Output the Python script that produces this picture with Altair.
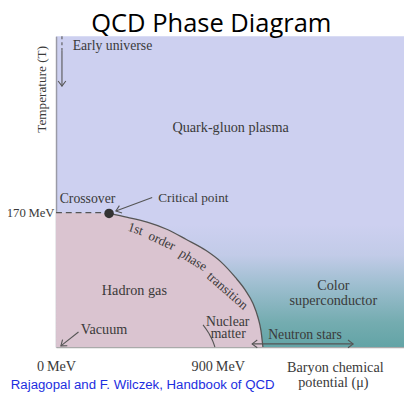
import altair as alt
import pandas as pd

# ---- data (mu = baryon chemical potential in MeV, T = temperature in MeV) ----
x_domain = [0, 1936]
y_domain = [0, 393]

# hadron-gas region boundary (crossover + 1st order line)
boundary_mu = [0, 295, 398, 507, 616, 725, 835, 916, 998, 1053, 1096, 1124, 1140, 1151]
boundary_T = [170, 169, 164, 158, 149, 136, 122, 108, 88, 72, 55, 37, 21, 0]

# crossover (dashed) line and critical point
crossover_mu = [0, 295]
crossover_T = [170, 170]
critical_mu = [295]
critical_T = [169]

# nuclear matter arc
nuclear_mu = [818, 851, 873, 884]
nuclear_T = [28, 17, 7, 0]

# colour-superconductor shading band
cs_mu = [0, 1936]
cs_T = [0, 155]

# arrows: shafts
arrow_id = ["early_d", "early_d", "early", "early", "vac", "vac", "crit", "crit", "ns", "ns"]
arrow_mu = [33, 33, 33, 33, 125, 27, 535, 333, 1091, 1653]
arrow_T = [393, 375, 375, 330, 19, 1.5, 189, 172, 4, 4]
arrow_dash = [1, 1, 0, 0, 0, 0, 0, 0, 0, 0]
arrow_order = [0, 1, 0, 1, 0, 1, 0, 1, 0, 1]

# arrow heads
head_mu = [33, 27, 333, 1091, 1653]
head_T = [330, 1.5, 172, 4, 4]
head_angle = [90, 142, 160, 180, 0]

# labels
label_text = ["Early universe", "Quark-gluon plasma", "Crossover", "Critical point",
              "1st", "order", "phase", "transition", "Hadron gas", "Color",
              "superconductor", "Vacuum", "Nuclear", "matter", "Neutron stars",
              "Baryon chemical", "potential (μ)"]
label_mu = [314, 971, 175, 764, 442, 588, 762, 953, 436, 1543, 1543, 267, 955, 958,
            1385, 1554, 1543]
label_T = [381, 277, 187, 188, 149, 134, 110, 71, 71, 77, 58, 22, 32, 16, 15, -26, -46]
label_angle = [0, 0, 0, 0, 18, 25, 32, 41, 0, 0, 0, 0, 0, 0, 0, 0, 0]
label_size = [14, 14.5, 14, 13.5, 13.5, 13.5, 13.5, 13.5, 14.5, 14.5, 14.5, 14.5,
              14, 14, 14, 14.5, 14.5]

title_text = ["QCD Phase Diagram"]
title_mu = [864]
title_T = [398]

ylabel_text = ["Temperature (T)"]
ylabel_mu = [-76]
ylabel_T = [326]

cite_text = ["K. Rajagopal and F. Wilczek, Handbook of QCD"]
cite_mu = [1216]
cite_T = [-48]

x_ticks = [0, 900]
y_ticks = [170]

# ---- styling ----
BLUE = "#cdd0f0"
PINK = "#dac4d0"
INK = "#3a3a3a"
SERIF = "Liberation Serif"

xs = alt.Scale(domain=x_domain, nice=False, zero=False)
ys = alt.Scale(domain=y_domain, nice=False, zero=False)

X = lambda f: alt.X(f, type="quantitative", scale=xs,
                    axis=alt.Axis(values=x_ticks, title=None, grid=False, ticks=False,
                                  tickSize=0, labelExpr="datum.value + '\u2009MeV'",
                                  labelFont=SERIF, labelFontSize=14.5, labelColor=INK,
                                  labelPadding=13, labelFlush=False, labelOverlap=False,
                                  domainColor="#aaaaaa", domainWidth=1.5))
Y = lambda f: alt.Y(f, type="quantitative", scale=ys,
                    axis=alt.Axis(values=y_ticks, title=None, grid=False, ticks=False,
                                  tickSize=0, labelExpr="datum.value + '\u2009MeV'",
                                  labelFont=SERIF, labelFontSize=13, labelColor=INK,
                                  labelPadding=2, labelFlush=False,
                                  domainColor="#9a9aa6", domainWidth=1.5))

cs_df = pd.DataFrame({"mu": [cs_mu[0]], "mu2": [cs_mu[1]], "T": [cs_T[0]], "T2": [cs_T[1]]})
cs = alt.Chart(cs_df).mark_rect(
    color=alt.Gradient(
        gradient="linear",
        stops=[alt.GradientStop(color=BLUE, offset=0),
               alt.GradientStop(color="#c2cbe8", offset=0.25),
               alt.GradientStop(color="#9dbecf", offset=0.5),
               alt.GradientStop(color="#74acb0", offset=0.8),
               alt.GradientStop(color="#63a4a6", offset=1)],
        x1=0, y1=0, x2=0, y2=1)
).encode(x=X("mu"), x2="mu2", y=Y("T2"), y2="T")

bd = pd.DataFrame({"mu": boundary_mu, "T": boundary_T})
hadron = alt.Chart(bd).mark_area(color=PINK, interpolate="monotone").encode(
    x=X("mu"), y=Y("T"), y2=alt.datum(0))

line_df = bd[bd["mu"] >= critical_mu[0]]
first_order = alt.Chart(line_df).mark_line(color="#555555", strokeWidth=1.3,
                                           interpolate="monotone").encode(x=X("mu"), y=Y("T"))

cross_df = pd.DataFrame({"mu": crossover_mu, "T": crossover_T})
cross = alt.Chart(cross_df).mark_line(color="#555555", strokeWidth=1.4,
                                      strokeDash=[6, 4]).encode(x=X("mu"), y=Y("T"))

nuc_df = pd.DataFrame({"mu": nuclear_mu, "T": nuclear_T})
nuc = alt.Chart(nuc_df).mark_line(color="#555555", strokeWidth=1.1,
                                  interpolate="monotone").encode(x=X("mu"), y=Y("T"))

crit_df = pd.DataFrame({"mu": critical_mu, "T": critical_T})
crit = alt.Chart(crit_df).mark_point(filled=True, color="#333333", size=95, opacity=1).encode(
    x=X("mu"), y=Y("T"))

arr_df = pd.DataFrame({"id": arrow_id, "mu": arrow_mu, "T": arrow_T,
                       "dash": arrow_dash, "o": arrow_order})
shafts = alt.Chart(arr_df[arr_df["dash"] == 0]).mark_line(color="#555555", strokeWidth=1.1).encode(
    x=X("mu"), y=Y("T"), detail="id:N", order="o:Q")
dashed = alt.Chart(arr_df[arr_df["dash"] == 1]).mark_line(color="#555555", strokeWidth=1.1,
                                                         strokeDash=[3, 3]).encode(
    x=X("mu"), y=Y("T"), detail="id:N", order="o:Q")

head_df = pd.DataFrame({"mu": head_mu, "T": head_T, "angle": head_angle})
heads = alt.Chart(head_df).mark_point(shape="M-1,-0.75L0,0L-1,0.75", filled=False,
                                      color="#555555", strokeWidth=1.1, size=110,
                                      opacity=1).encode(
    x=X("mu"), y=Y("T"), angle=alt.Angle("angle:Q", scale=None))

lab_df = pd.DataFrame({"text": label_text, "mu": label_mu, "T": label_T,
                       "angle": label_angle, "size": label_size})
labels = alt.Chart(lab_df).mark_text(font=SERIF, color=INK, baseline="middle",
                                     align="center").encode(
    x=X("mu"), y=Y("T"), text="text:N",
    angle=alt.Angle("angle:Q", scale=None), size=alt.Size("size:Q", scale=None))

ylab_df = pd.DataFrame({"text": ylabel_text, "mu": ylabel_mu, "T": ylabel_T})
ylab = alt.Chart(ylab_df).mark_text(font=SERIF, color=INK, fontSize=13.5, angle=270,
                                    baseline="middle", align="center").encode(
    x=X("mu"), y=Y("T"), text="text:N")

cite_df = pd.DataFrame({"text": cite_text, "mu": cite_mu, "T": cite_T})
cite = alt.Chart(cite_df).mark_text(font="Liberation Sans", color="#1c2ee0", fontSize=13.5,
                                    baseline="middle", align="right").encode(
    x=X("mu"), y=Y("T"), text="text:N")

title_df = pd.DataFrame({"text": title_text, "mu": title_mu, "T": title_T})
title = alt.Chart(title_df).mark_text(font="Open Sans", color="black", fontSize=26,
                                      baseline="alphabetic", align="center").encode(
    x=X("mu"), y=Y("T"), text="text:N")

chart = alt.layer(cs, hadron, nuc, first_order, cross, shafts, dashed, heads, crit,
                  labels, ylab, cite, title).properties(
    width=355, height=317,
    padding={"left": 49, "top": 25, "right": 0, "bottom": 43},
    autosize=alt.AutoSizeParams(type="none"),
).configure_view(fill=BLUE, stroke=None)

chart.save("out.html", embed_options={"renderer": "svg", "actions": False})
